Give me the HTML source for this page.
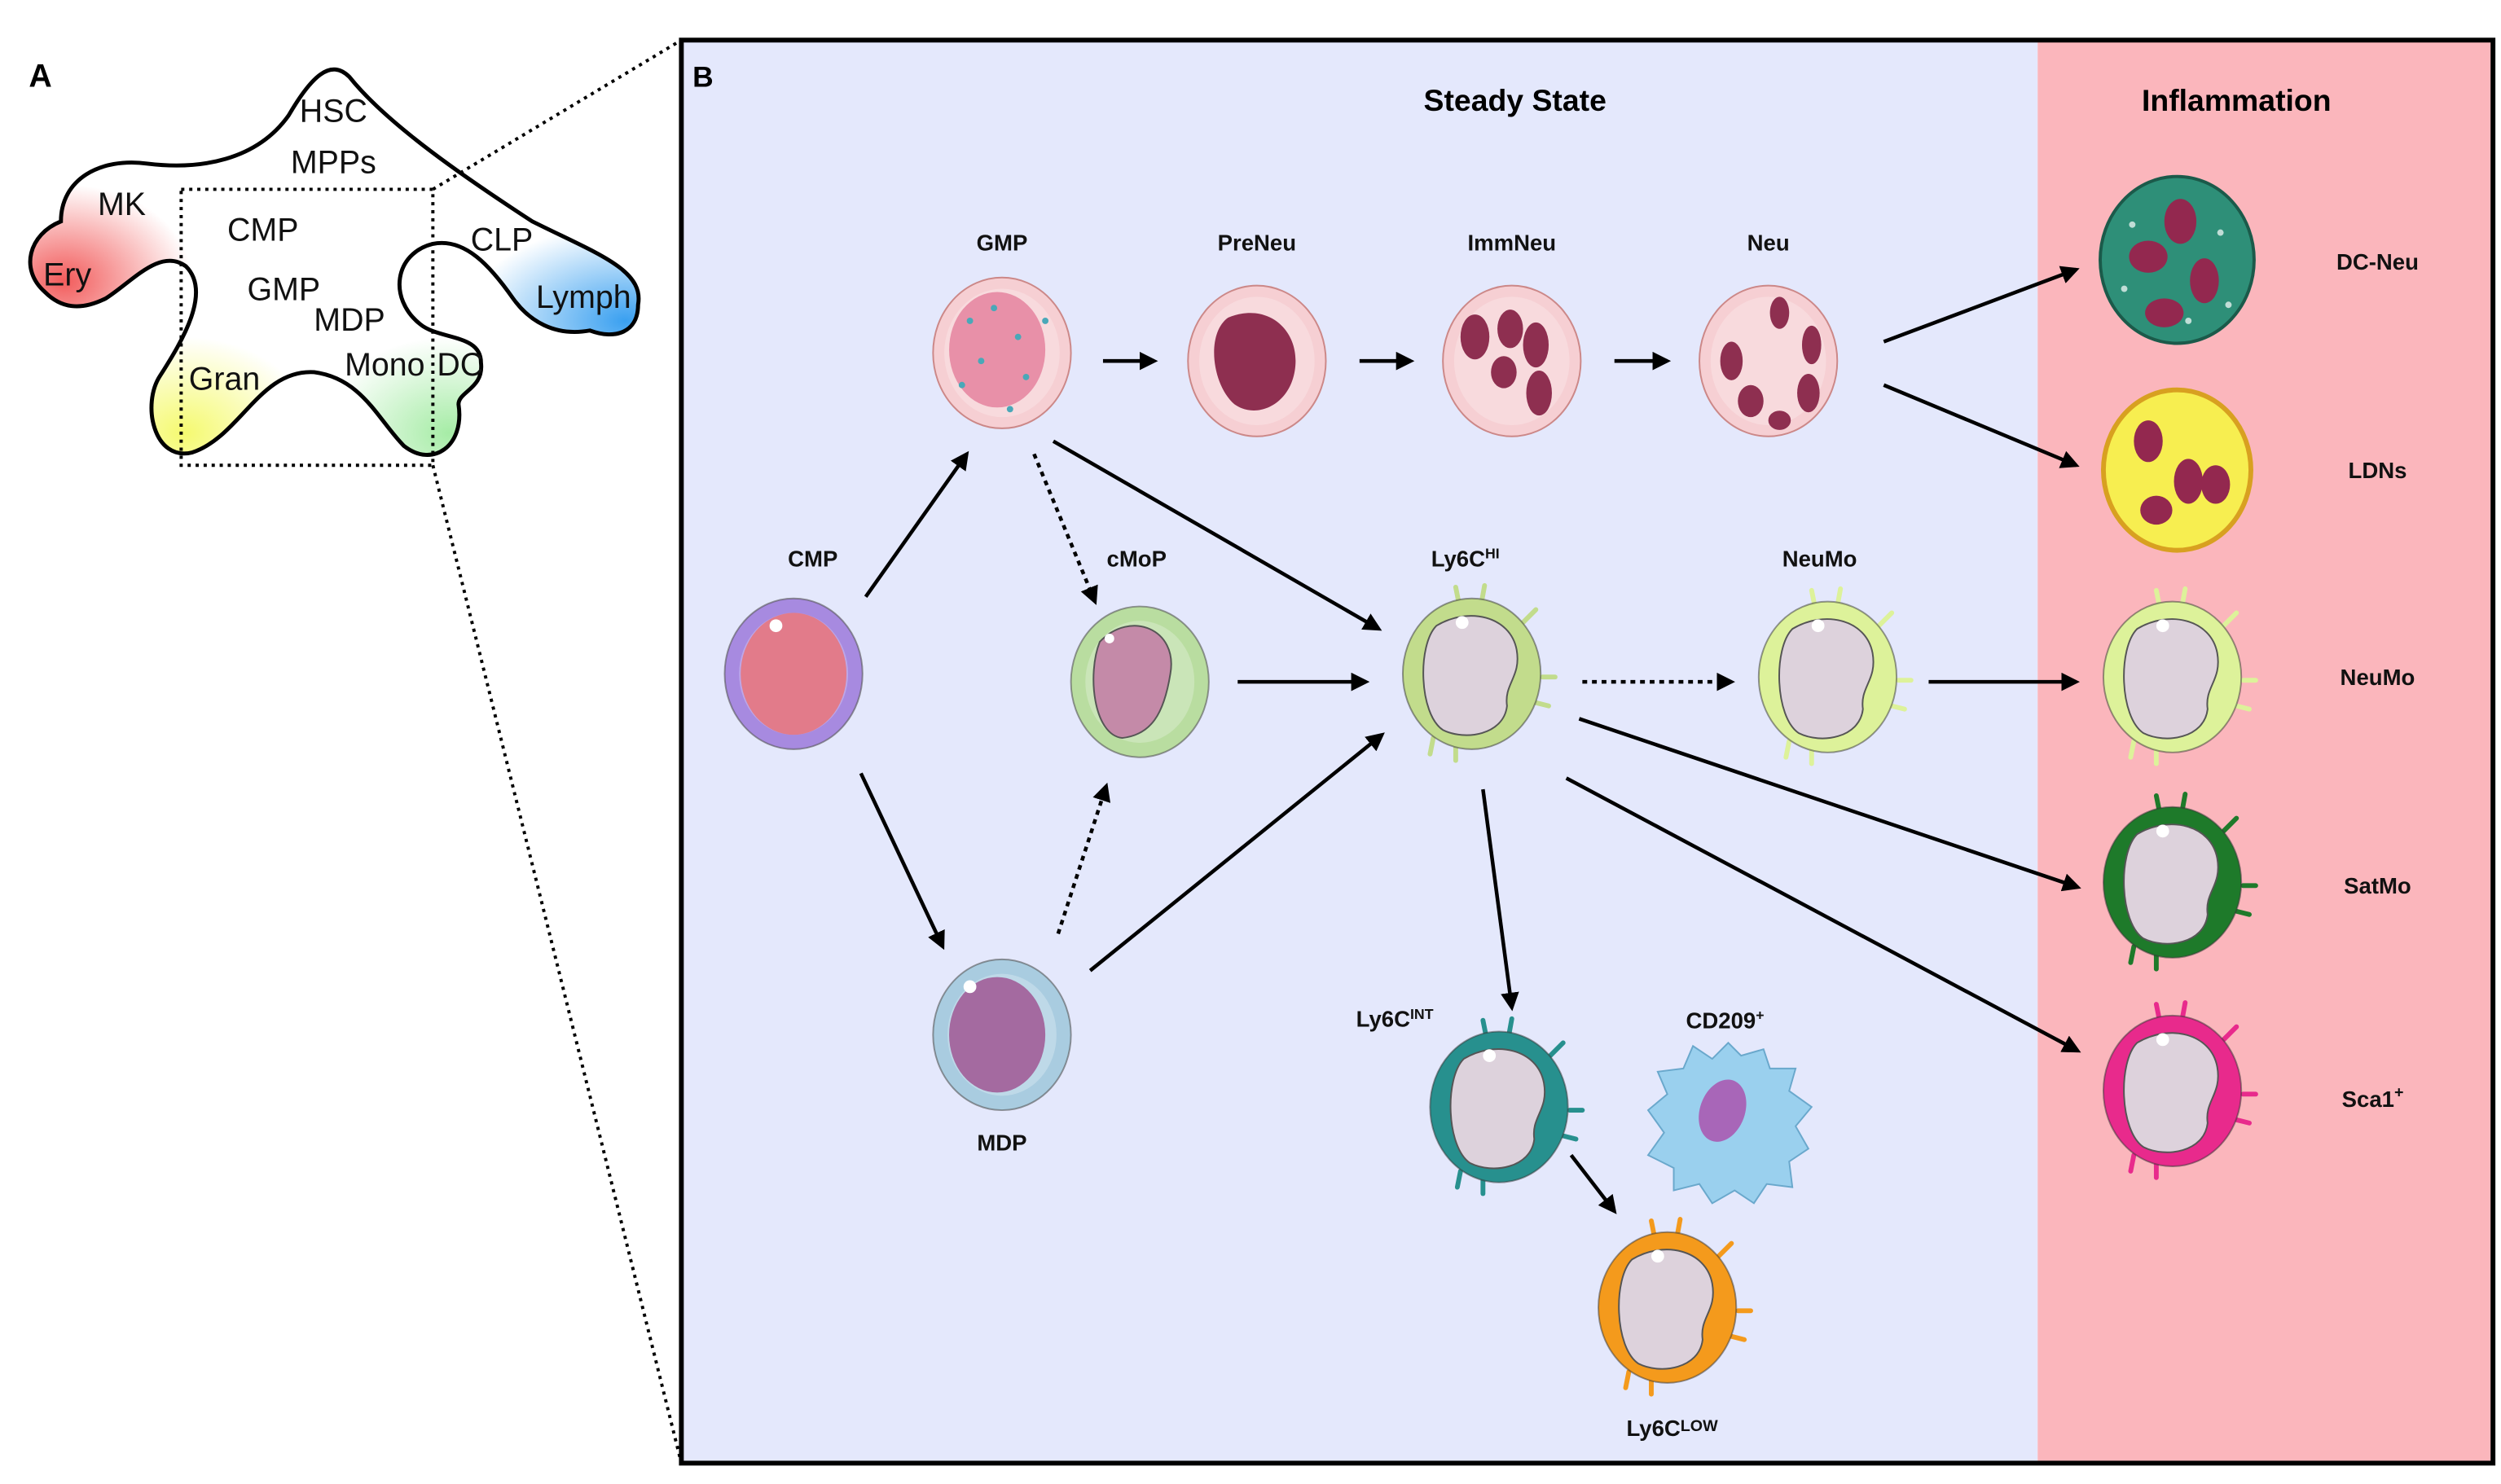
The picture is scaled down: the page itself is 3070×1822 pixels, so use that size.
<!DOCTYPE html>
<html><head><meta charset="utf-8"><style>
html,body{margin:0;padding:0;background:#fff;}
svg{display:block;}
text{font-family:"Liberation Sans",Arial,sans-serif;}
.lb{font-weight:bold;font-size:14px;text-anchor:middle;fill:#111;}
.la{font-size:20px;fill:#111;text-anchor:middle;}
</style></head><body>
<svg width="3070" height="1822" viewBox="0 0 1560 925" preserveAspectRatio="none" xmlns="http://www.w3.org/2000/svg">
<defs>
<marker id="ah" viewBox="0 0 10 10" refX="8" refY="5" markerWidth="5" markerHeight="5" orient="auto"><path d="M0,0 L10,5 L0,10 Z" fill="#000"/></marker>
<symbol id="mono" viewBox="-60 -60 120 120" overflow="visible">
  <g stroke="currentColor" stroke-width="3" stroke-linecap="round">
   <line x1="-8" y1="-44" x2="-10" y2="-54"/><line x1="6" y1="-44" x2="8" y2="-55"/>
   <line x1="32" y1="-32" x2="40" y2="-40"/><line x1="44" y1="2" x2="52" y2="2"/>
   <line x1="40" y1="18" x2="48" y2="20"/><line x1="-24" y1="40" x2="-26" y2="50"/><line x1="-10" y1="44" x2="-10" y2="54"/>
  </g>
  <ellipse cx="0" cy="0" rx="43" ry="47" fill="currentColor" stroke="#333" stroke-opacity=".5" stroke-width="1"/>
  <path d="M-22,-30 C-2,-42 24,-36 28,-15 C31,2 20,6 22,20 C20,38 -4,42 -18,35 C-33,25 -34,-18 -22,-30 Z" fill="#ddd2dc" stroke="#555" stroke-width="1"/>
  <circle cx="-6" cy="-32" r="4" fill="#fff"/>
</symbol>
<symbol id="prog" viewBox="-60 -60 120 120" overflow="visible">
  <ellipse cx="0" cy="0" rx="43" ry="47" fill="currentColor" stroke="#555" stroke-opacity=".6" stroke-width="1"/>
  <ellipse cx="0" cy="0" rx="34" ry="38" fill="#fff" fill-opacity=".25"/>
</symbol>
<symbol id="neu" viewBox="-60 -60 120 120" overflow="visible">
  <ellipse cx="0" cy="0" rx="43" ry="47" fill="#f6cfd3" stroke="#c88" stroke-width="1"/>
  <ellipse cx="0" cy="0" rx="36" ry="40" fill="#f8dadd"/>
</symbol>
<clipPath id="blob"><path id="bp" d="M28,182 C12,168 18,146 38,138 C38,112 62,98 92,102 C125,106 160,100 180,72 C194,48 206,36 218,48 C242,78 292,112 332,138 C372,158 402,168 398,190 C398,207 384,212 368,206 C346,210 330,200 320,186 C306,166 290,148 270,152 C246,158 242,186 262,202 C274,212 300,208 300,226 C302,242 286,244 286,252 C290,278 270,292 252,278 C236,262 226,236 196,232 C162,230 150,272 120,282 C96,288 88,252 100,234 C114,212 132,182 116,166 C100,154 82,176 66,186 C50,194 38,192 28,182 Z"/></clipPath>
<radialGradient id="gy"><stop offset="0" stop-color="#f5fa70"/><stop offset="1" stop-color="#f5fa70" stop-opacity="0"/></radialGradient>
<radialGradient id="gg"><stop offset="0" stop-color="#a6eca6"/><stop offset="1" stop-color="#a6eca6" stop-opacity="0"/></radialGradient>
<radialGradient id="gb"><stop offset="0" stop-color="#3aa0f0"/><stop offset="1" stop-color="#3aa0f0" stop-opacity="0"/></radialGradient>
<radialGradient id="gr"><stop offset="0" stop-color="#f25c5c"/><stop offset="1" stop-color="#f25c5c" stop-opacity="0"/></radialGradient>
</defs>

<rect width="1560" height="925" fill="#fff"/>
<!-- Panel A -->
<text x="18" y="54" font-size="20" font-weight="bold">A</text>
<g clip-path="url(#blob)">
 <rect x="0" y="0" width="420" height="300" fill="#fff"/>
 <ellipse cx="40" cy="175" rx="80" ry="60" fill="url(#gr)"/>
 <ellipse cx="115" cy="270" rx="80" ry="60" fill="url(#gy)"/>
 <ellipse cx="280" cy="270" rx="80" ry="60" fill="url(#gg)"/>
 <ellipse cx="390" cy="200" rx="100" ry="60" fill="url(#gb)"/>
</g>
<use href="#bp" fill="none" stroke="#000" stroke-width="2.5"/>
<text class="la" x="208" y="76">HSC</text>
<text class="la" x="208" y="108">MPPs</text>
<text class="la" x="76" y="134">MK</text>
<text class="la" x="42" y="178">Ery</text>
<text class="la" x="164" y="150">CMP</text>
<text class="la" x="177" y="187">GMP</text>
<text class="la" x="218" y="206">MDP</text>
<text class="la" x="140" y="243">Gran</text>
<text class="la" x="240" y="234">Mono</text>
<text class="la" x="287" y="234">DC</text>
<text class="la" x="313" y="156">CLP</text>
<text class="la" x="364" y="192">Lymph</text>
<rect x="113" y="118" width="157" height="172" fill="none" stroke="#000" stroke-width="2" stroke-dasharray="2,3"/>
<line x1="270" y1="118" x2="425" y2="25" stroke="#000" stroke-width="2" stroke-dasharray="2,3"/>
<line x1="270" y1="290" x2="425" y2="912" stroke="#000" stroke-width="2" stroke-dasharray="2,3"/>

<!-- Panel B -->
<rect x="425" y="25" width="846" height="887" fill="#e4e8fc"/>
<rect x="1271" y="25" width="284" height="887" fill="#fbb6bc"/>
<rect x="425" y="25" width="1130" height="887" fill="none" stroke="#000" stroke-width="3"/>
<text x="432" y="54" font-size="18" font-weight="bold">B</text>
<text x="945" y="69" font-size="19" font-weight="bold" text-anchor="middle">Steady State</text>
<text x="1395" y="69" font-size="19" font-weight="bold" text-anchor="middle">Inflammation</text>

<!-- labels -->
<text class="lb" x="625" y="156">GMP</text>
<text class="lb" x="784" y="156">PreNeu</text>
<text class="lb" x="943" y="156">ImmNeu</text>
<text class="lb" x="1103" y="156">Neu</text>
<text class="lb" x="507" y="353">CMP</text>
<text class="lb" x="709" y="353">cMoP</text>
<text class="lb" x="914" y="353">Ly6C<tspan font-size="9" dy="-5">HI</tspan></text>
<text class="lb" x="1135" y="353">NeuMo</text>
<text class="lb" x="625" y="717">MDP</text>
<text class="lb" x="870" y="640">Ly6C<tspan font-size="9" dy="-5">INT</tspan></text>
<text class="lb" x="1076" y="641">CD209<tspan font-size="9" dy="-5">+</tspan></text>
<text class="lb" x="1043" y="895">Ly6C<tspan font-size="10" dy="-3">LOW</tspan></text>
<text class="lb" x="1483" y="168">DC-Neu</text>
<text class="lb" x="1483" y="298">LDNs</text>
<text class="lb" x="1483" y="427">NeuMo</text>
<text class="lb" x="1483" y="557">SatMo</text>
<text class="lb" x="1480" y="690" font-size="16">Sca1<tspan font-size="10" dy="-6">+</tspan></text>

<!-- neutrophil row -->
<use href="#neu" x="565" y="160" width="120" height="120"/>
<ellipse cx="622" cy="218" rx="30" ry="36" fill="#e890a8"/>
<g fill="#4aa8b8"><circle cx="605" cy="200" r="2"/><circle cx="620" cy="192" r="2"/><circle cx="635" cy="210" r="2"/><circle cx="612" cy="225" r="2"/><circle cx="640" cy="235" r="2"/><circle cx="600" cy="240" r="2"/><circle cx="630" cy="255" r="2"/><circle cx="652" cy="200" r="2"/></g>
<use href="#neu" x="724" y="165" width="120" height="120"/>
<path d="M766,198 C790,188 810,205 808,228 C806,252 784,262 770,252 C756,240 752,208 766,198 Z" fill="#8e2f50"/>
<use href="#neu" x="883" y="165" width="120" height="120"/>
<g fill="#8e2f50"><ellipse cx="920" cy="210" rx="9" ry="14"/><ellipse cx="942" cy="205" rx="8" ry="12"/><ellipse cx="958" cy="215" rx="8" ry="14"/><ellipse cx="938" cy="232" rx="8" ry="10"/><ellipse cx="960" cy="245" rx="8" ry="14"/></g>
<use href="#neu" x="1043" y="165" width="120" height="120"/>
<g fill="#8e2f50"><ellipse cx="1110" cy="195" rx="6" ry="10"/><ellipse cx="1130" cy="215" rx="6" ry="12"/><ellipse cx="1080" cy="225" rx="7" ry="12"/><ellipse cx="1128" cy="245" rx="7" ry="12"/><ellipse cx="1092" cy="250" rx="8" ry="10"/><ellipse cx="1110" cy="262" rx="7" ry="6"/></g>

<!-- DC-Neu, LDNs -->
<ellipse cx="1358" cy="162" rx="48" ry="52" fill="#2e8f78" stroke="#1b5a4a" stroke-width="2"/>
<g fill="#93284f"><ellipse cx="1360" cy="138" rx="10" ry="14"/><ellipse cx="1340" cy="160" rx="12" ry="10"/><ellipse cx="1375" cy="175" rx="9" ry="14"/><ellipse cx="1350" cy="195" rx="12" ry="9"/></g>
<g fill="#fff" opacity=".7"><circle cx="1330" cy="140" r="2"/><circle cx="1385" cy="145" r="2"/><circle cx="1390" cy="190" r="2"/><circle cx="1325" cy="180" r="2"/><circle cx="1365" cy="200" r="2"/></g>
<ellipse cx="1358" cy="293" rx="46" ry="50" fill="#f7ee50" stroke="#d8a020" stroke-width="3"/>
<g fill="#93284f"><ellipse cx="1340" cy="275" rx="9" ry="13"/><ellipse cx="1365" cy="300" rx="9" ry="14"/><ellipse cx="1382" cy="302" rx="9" ry="12"/><ellipse cx="1345" cy="318" rx="10" ry="9"/></g>

<!-- progenitors -->
<use href="#prog" x="435" y="360" width="120" height="120" style="color:#a78ae0"/>
<ellipse cx="495" cy="420" rx="33" ry="38" fill="#e27b8a"/>
<circle cx="484" cy="390" r="4" fill="#fff"/>
<use href="#prog" x="651" y="365" width="120" height="120" style="color:#b9dda0"/>
<path d="M686,400 C705,380 735,392 730,420 C726,445 718,458 700,460 C682,458 678,420 686,400 Z" fill="#c48aa8" stroke="#555" stroke-width="1"/>
<circle cx="692" cy="398" r="3" fill="#fff"/>
<use href="#prog" x="565" y="585" width="120" height="120" style="color:#a9cce0"/>
<ellipse cx="622" cy="645" rx="30" ry="36" fill="#a46aa0"/>
<circle cx="605" cy="615" r="4" fill="#fff"/>

<!-- monocytes -->
<use href="#mono" x="858" y="360" width="120" height="120" style="color:#c2dc8c"/>
<use href="#mono" x="1080" y="362" width="120" height="120" style="color:#ddf29a"/>
<use href="#mono" x="1295" y="362" width="120" height="120" style="color:#ddf29a"/>
<use href="#mono" x="1295" y="490" width="120" height="120" style="color:#1e7a2a"/>
<use href="#mono" x="1295" y="620" width="120" height="120" style="color:#e82a8c"/>
<use href="#mono" x="875" y="630" width="120" height="120" style="color:#27908e"/>
<use href="#mono" x="980" y="755" width="120" height="120" style="color:#f49a1c"/>
<!-- CD209 -->
<g transform="translate(1078,700)">
 <polygon points="0,-50 8,-42 22,-46 26,-34 42,-34 38,-20 52,-10 42,2 50,16 38,24 40,40 24,38 16,50 4,42 -10,50 -18,38 -34,42 -34,28 -50,20 -40,6 -50,-8 -38,-18 -44,-32 -28,-34 -22,-48 -10,-40" fill="#9ad0ee" stroke="#6aa8cc" stroke-width="1"/>
 <ellipse cx="-6" cy="-6" rx="14" ry="20" transform="rotate(20)" fill="#a866b8"/>
</g>

<!-- arrows -->
<g stroke="#000" stroke-width="2.3" fill="none" marker-end="url(#ah)">
<line x1="688" y1="225" x2="720" y2="225"/>
<line x1="848" y1="225" x2="880" y2="225"/>
<line x1="1007" y1="225" x2="1040" y2="225"/>
<line x1="1175" y1="213" x2="1295" y2="168"/>
<line x1="1175" y1="240" x2="1295" y2="290"/>
<line x1="540" y1="372" x2="603" y2="283"/>
<line x1="537" y1="482" x2="588" y2="590"/>
<line x1="657" y1="275" x2="860" y2="392"/>
<line x1="772" y1="425" x2="852" y2="425"/>
<line x1="680" y1="605" x2="862" y2="458"/>
<line x1="1203" y1="425" x2="1295" y2="425"/>
<line x1="985" y1="448" x2="1296" y2="553"/>
<line x1="977" y1="485" x2="1296" y2="655"/>
<line x1="925" y1="492" x2="943" y2="628"/>
<line x1="980" y1="720" x2="1007" y2="755"/>
<g stroke-dasharray="3,3">
<line x1="645" y1="283" x2="683" y2="375"/>
<line x1="660" y1="582" x2="690" y2="490"/>
<line x1="987" y1="425" x2="1080" y2="425"/>
</g>
</g>
</svg>
</body></html>
